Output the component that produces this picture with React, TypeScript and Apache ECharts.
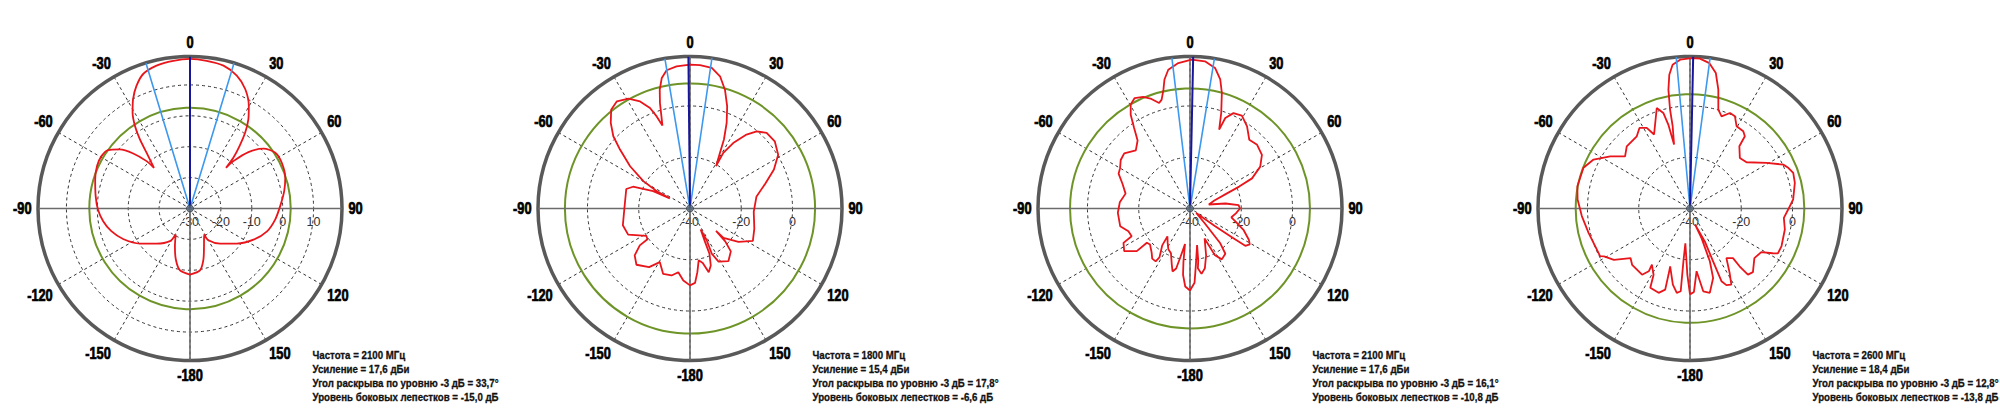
import React, { useEffect, useRef } from "react";
import * as echarts from "echarts";

// ---- data ----
const FREQUENCIES_MHZ = [2100, 1800, 2100, 2600];
const GAINS_DBI = [17.6, 15.4, 17.6, 18.4];
const BEAMWIDTHS_DEG = [33.7, 17.8, 16.1, 12.8];
const SIDELOBE_LEVELS_DB = [-15.0, -6.6, -10.8, -13.8];
const BEAM_DIRECTIONS_DEG = [0, -0.6, 1.2, 1.2];
const RADIUS_MIN = [-30, -40, -40, -40];
const RADIUS_MAX = [19.2, 19.3, 19.3, 19.3];
const RADIUS_STEP = [10, 20, 20, 20];
const ANGLE_LABELS = [0, 30, 60, 90, 120, 150, -180, -150, -120, -90, -60, -30];

// [angle in degrees, level in dB]
const PATTERN_2100_A: [number, number][] = [
  [-180, -8.6], [-170.8, -9.7], [-164.6, -12.8], [-158.3, -16.8], [-151.1, -20.4], [-148.5, -17.6],
  [-136.4, -14.3], [-125, -10.2], [-114.5, -6.2], [-106.1, -3.5], [-98.3, -1.6], [-90.6, -0.2],
  [-82.5, 0.8], [-73, 2.1], [-65.4, 3.1], [-59.4, 3.3], [-54.5, 2.6], [-49.9, -0.3], [-45.9, -4.4],
  [-42.5, -9.2], [-41.5, -12.4], [-37.9, -7.1], [-35.9, -2.3], [-33.7, 2.1], [-30.9, 6.2],
  [-27.5, 9.9], [-23.6, 13.3], [-19.2, 16.1], [-13.2, 17.5], [-6.45, 18.1], [0, 18.4], [6.45, 18.1],
  [13.2, 17.5], [19.4, 15.6], [24.8, 12.6], [29.8, 8.3], [33.2, 4.5], [36, 0.4], [38.4, -4.2],
  [40.5, -8.4], [41.5, -12.4], [42.5, -9.2], [46, -3.7], [50.9, 0.7], [56.8, 3.0], [63.5, 3.2],
  [72.1, 2.4], [79.6, 1.0], [88.5, -0.8], [97.4, -2.2], [106.5, -4], [116.1, -7.1], [126.9, -11.1],
  [139.4, -15], [150, -18.1], [151.7, -20.4], [159.6, -17], [165.3, -12.9], [170.8, -9.7], [180, -8.6],
];

const PATTERN_1800: [number, number][] = [
  [-180, -10], [-174.7, -11.8], [-169.6, -14.7], [-164.6, -12.9], [-157.7, -12.4], [-150.6, -16],
  [-145.1, -12.1], [-136.4, -9.7], [-130.3, -11.7], [-126.3, -15.7], [-125.9, -19.5], [-122.2, -19.9],
  [-112.9, -13.8], [-104, -13], [-90, -14.4], [-73, -14], [-69.1, -16.2], [-64.7, -24.1],
  [-63.4, -31.2], [-62.5, -25.4], [-59.6, -18.9], [-54.8, -11.4], [-49.9, -4.3], [-46.7, 1.1],
  [-42.8, 5.5], [-38.6, 9.3], [-34.3, 10.6], [-29.3, 9.1], [-25, 6.1], [-21.7, 2.2], [-19.9, -1.8],
  [-18.4, -5.9], [-17.2, -2.3], [-15.9, 2.8], [-14.3, 7.8], [-12.2, 12.1], [-9.6, 14.7], [-5.4, 15.7],
  [0, 16.1], [4, 16.1], [8.8, 15.5], [12.8, 12.9], [16.4, 8.3], [20, 2.4], [23.2, -3.7], [26.2, -10],
  [28.3, -15.4], [31.6, -20.6], [30.9, -14.7], [33.4, -9.4], [37.4, -3.7], [40.8, -0.2], [45.4, 2.0],
  [51.6, 2.2], [58.6, 0.3], [65.1, -3.9], [71.6, -9], [80, -13.7], [93, -15.1], [107.4, -13.7],
  [117.3, -12.4], [124.6, -17], [131.3, -22.6], [130.7, -26.6], [133, -21.2], [136.4, -16.9],
  [143.8, -14.6], [151.7, -16.5], [154.3, -20.4], [152.2, -26], [153.1, -30.8], [155.8, -25.7],
  [156.7, -20.8], [160, -16.3], [163.6, -14.1], [166.8, -18.2], [170.5, -19.5], [173.4, -15],
  [176.1, -10.9], [180, -10],
];

const PATTERN_2100_B: [number, number][] = [
  [-180, -8], [-176.5, -9.5], [-174, -14], [-173, -19], [-172, -26], [-169, -21], [-167, -16],
  [-164.5, -14.5], [-162, -17], [-157, -21], [-152, -22], [-147, -24], [-141, -26], [-143, -22],
  [-148, -17.5], [-147, -15.4], [-143, -15.5], [-139, -17.2], [-132, -19], [-128.5, -18.5],
  [-128.7, -13.4], [-123, -9.4], [-117.3, -10.8], [-115.4, -14.8], [-110.2, -14.4], [-104.2, -11.9],
  [-93.4, -11.8], [-85, -12.5], [-77, -14.2], [-70, -12], [-64, -9], [-60, -8.5], [-55, -7],
  [-50, -6.5], [-43, -9], [-37.6, -6.5], [-34.8, -1.8], [-32.3, 3.3], [-29.7, 6.7], [-26.6, 8.2],
  [-22.8, 7.2], [-19.4, 5.3], [-16.3, 2.9], [-14.6, 3.9], [-12.6, 7.5], [-11.2, 11.3], [-8.9, 14.8],
  [-4.6, 16.9], [0.6, 18.1], [5.8, 17.7], [10.1, 15.7], [13.2, 11.7], [15.4, 6.8], [18.1, -0.8],
  [20.3, -7.2], [21.3, -2.1], [24.5, 0.9], [29.2, 1.5], [34.8, -1], [40.8, -4.6], [46.5, -3.9],
  [53.3, -5], [59.2, -8.1], [64.1, -13.1], [66, -19], [68, -25], [72, -30], [78, -32.5], [82, -26],
  [86, -21], [90, -20.5], [96, -22], [102, -23.5], [107, -21], [112, -17.4], [118, -14], [121, -12.8],
  [124, -14], [124.5, -20], [125, -28], [126, -37], [135, -32], [139, -22], [142, -17.6], [148, -16.6],
  [152, -19.5], [153, -24], [154, -27], [161, -20.7], [166, -16], [170, -14.1], [172.5, -16.5],
  [171, -19.5], [169, -25.5], [174, -18], [176.5, -11], [180, -8],
];

const PATTERN_2600: [number, number][] = [
  [-180, -6.5], [-177.7, -14.2], [-172.4, -26.3], [-172.9, -19.2], [-173.6, -7.5], [-171.1, -6.7],
  [-167.3, -9.6], [-161.1, -16.1], [-162, -12.9], [-163, -6.9], [-159.6, -4.9], [-153.4, -5.4],
  [-151.2, -10.5], [-145.9, -13.5], [-146.7, -10.7], [-144.1, -8.1], [-134.2, -8.5], [-129.8, -9.8],
  [-124, -4.2], [-119.1, -1.6], [-117.9, -0.3], [-111.6, -0.2], [-103.5, 0.7], [-94, 2.3],
  [-85.4, 4], [-78.8, 4.8], [-69.1, 4.5], [-63.1, 2.2], [-56.8, -2.8], [-51.2, -7.5], [-45.5, -5.4],
  [-36.4, -5], [-32.1, -2.9], [-28.2, -4.3], [-25.9, -7.9], [-18.3, 1.3], [-15.6, -1.3], [-14.5, -6.2],
  [-14, -14.3], [-11.9, -7.2], [-11.4, -0.6], [-10.3, 7.1], [-8.8, 12.8], [-6.9, 16.5], [-3.8, 18.2],
  [0.6, 18.7], [3.8, 18.6], [7.6, 17.2], [10.8, 13.8], [13.4, 7.7], [16, 0.1], [18.9, -2], [22.7, 0.4],
  [26, 0], [29.5, -3.1], [34.6, -3.4], [37.2, -4.6], [38.4, -9], [44.6, -12.3], [50.7, -11.5],
  [59.2, -5.2], [64.8, 0.2], [67.5, 1.5], [71, 2.6], [76.3, 2.1], [85, 0.4], [90.6, -1.7], [95.7, -3.2],
  [102.5, -2.1], [112.3, -1.4], [117, -1.5], [118.4, -3.3], [121.5, -7.4], [127.6, -8.3], [135.3, -5.1],
  [138.8, -5.7], [139.4, -10.3], [139.1, -14.4], [143.7, -16], [148.4, -10.5], [151.5, -6.2],
  [154.6, -6.9], [156.6, -9.1], [156.4, -17.5], [155.8, -25.8], [162.6, -33.5], [158.7, -27.5],
  [159.4, -18], [161.6, -11.4], [166.8, -6.2], [170.9, -7.3], [174, -15.4], [177.3, -7.4], [180, -6.5],
];

const PATTERNS = [PATTERN_2100_A, PATTERN_1800, PATTERN_2100_B, PATTERN_2600];

// ---- layout / style ----
const BOLD_FONT = '"Liberation Sans", Arial, sans-serif';
const REGULAR = '"Liberation Sans", Arial, sans-serif';
const POLAR_RADIUS = 152;
const LABEL_GAP = 6.5;

const toAxisAngle = (a: number) => (a < 90 ? a + 360 : a);
const ru = (v: number) => v.toFixed(1).replace(".", ",");

function buildOption() {
  const polar: any[] = [];
  const angleAxis: any[] = [];
  const radiusAxis: any[] = [];
  const series: any[] = [];
  const graphic: any[] = [];

  for (let k = 0; k < 4; k++) {
    const cx = 190 + 500 * k;
    const cy = 208.5;
    const min = RADIUS_MIN[k];
    const max = RADIUS_MAX[k];
    const step = RADIUS_STEP[k];

    polar.push({ center: [cx, cy], radius: POLAR_RADIUS });

    angleAxis.push({
      polarIndex: k,
      type: "value",
      min: 90,
      max: 450,
      interval: 30,
      startAngle: 0,
      clockwise: true,
      axisLine: { show: true, lineStyle: { color: "#595959", width: 3.5 } },
      axisTick: { show: false },
      axisLabel: { show: false },
      splitLine: { show: true, lineStyle: { color: "#333", width: 1, type: [3, 3] } },
    });

    radiusAxis.push({
      polarIndex: k,
      type: "value",
      min,
      max,
      interval: step,
      axisLine: { show: false },
      axisTick: { show: false },
      axisLabel: {
        margin: -7,
        verticalAlign: "top",
        color: "#333",
        fontSize: 12.5,
        fontFamily: REGULAR,
        formatter: (v: number) =>
          Math.abs(v % step) < 1e-6 && v < max - 1 ? String(v) : "",
      },
      splitLine: { show: true, lineStyle: { color: "#333", width: 1, type: [3, 3] } },
    });

    const level = GAINS_DBI[k] + SIDELOBE_LEVELS_DB[k];
    series.push({
      type: "custom",
      coordinateSystem: "polar",
      polarIndex: k,
      silent: true,
      z: 3,
      data: [[level, 90]],
      renderItem: (params: any, api: any) => {
        const cs = params.coordSys;
        const p = api.coord([api.value(0), api.value(1)]);
        const r = Math.hypot(p[0] - cs.cx, p[1] - cs.cy);
        return {
          type: "circle",
          shape: { cx: cs.cx, cy: cs.cy, r },
          style: { fill: "none", stroke: "#6e9428", lineWidth: 2 },
        };
      },
    });

    // solid cross axes
    series.push({
      type: "line",
      coordinateSystem: "polar",
      polarIndex: k,
      silent: true,
      symbol: "none",
      z: 4,
      lineStyle: { color: "#6b6b6b", width: 1.6 },
      data: [[max, toAxisAngle(0)], [max, toAxisAngle(180)]],
    });
    series.push({
      type: "line",
      coordinateSystem: "polar",
      polarIndex: k,
      silent: true,
      symbol: "none",
      z: 4,
      lineStyle: { color: "#6b6b6b", width: 1.6 },
      data: [[max, toAxisAngle(-90)], [max, toAxisAngle(90)]],
    });

    // radiation pattern
    series.push({
      type: "line",
      coordinateSystem: "polar",
      polarIndex: k,
      silent: true,
      symbol: "none",
      smooth: k === 0 ? 0.25 : false,
      z: 5,
      lineStyle: { color: "#e8151b", width: 1.8 },
      data: PATTERNS[k].map(([a, v]) => [v, toAxisAngle(a)]),
    });

    // -3 dB beam edges and beam direction
    const c = BEAM_DIRECTIONS_DEG[k];
    const hw = BEAMWIDTHS_DEG[k] / 2;
    series.push({
      type: "line",
      coordinateSystem: "polar",
      polarIndex: k,
      silent: true,
      symbol: "none",
      z: 6,
      lineStyle: { color: "#3d98ee", width: 1.6 },
      data: [[max, toAxisAngle(c - hw)], [min, toAxisAngle(c)], [max, toAxisAngle(c + hw)]],
    });
    series.push({
      type: "line",
      coordinateSystem: "polar",
      polarIndex: k,
      silent: true,
      symbol: "none",
      z: 7,
      lineStyle: { color: "#17169a", width: 2 },
      data: [[min, toAxisAngle(c)], [max, toAxisAngle(c)]],
    });
    series.push({
      type: "scatter",
      coordinateSystem: "polar",
      polarIndex: k,
      silent: true,
      z: 8,
      symbol: "circle",
      symbolSize: 7,
      itemStyle: { color: "#5a6b7a", borderColor: "#2f3b48", borderWidth: 1 },
      data: [[min, 360]],
    });

    // angle labels (narrow heavy bold), placed around the polar frame
    ANGLE_LABELS.forEach((a) => {
      const rad = (a * Math.PI) / 180;
      const R = POLAR_RADIUS + LABEL_GAP;
      const dx = Math.sin(rad);
      const dy = -Math.cos(rad);
      const align = Math.abs(dx) < 0.3 ? "center" : dx > 0 ? "left" : "right";
      const vAlign = Math.abs(dy) < 0.3 ? "middle" : dy > 0 ? "top" : "bottom";
      graphic.push({
        type: "text",
        x: cx + R * dx,
        y: cy + R * dy,
        scaleX: 0.8,
        silent: true,
        style: {
          text: String(a),
          fill: "#000",
          stroke: "#000",
          lineWidth: 0.7,
          fontSize: 16,
          fontWeight: "bold",
          fontFamily: BOLD_FONT,
          align,
          verticalAlign: vAlign,
        },
      });
    });

    const lines = [
      `Частота = ${FREQUENCIES_MHZ[k]} МГц`,
      `Усиление = ${ru(GAINS_DBI[k])} дБи`,
      `Угол раскрыва по уровню -3 дБ = ${ru(BEAMWIDTHS_DEG[k])}°`,
      `Уровень боковых лепестков = ${ru(SIDELOBE_LEVELS_DB[k])} дБ`,
    ];
    lines.forEach((t, i) => {
      graphic.push({
        type: "text",
        x: 312.5 + 500 * k,
        y: 355 + 14.2 * i,
        scaleX: 0.88,
        silent: true,
        style: {
          text: t,
          fill: "#111",
          stroke: "#111",
          lineWidth: 0.3,
          fontSize: 11,
          fontWeight: "bold",
          fontFamily: BOLD_FONT,
          verticalAlign: "middle",
          align: "left",
        },
      });
    });
  }

  return {
    animation: false,
    backgroundColor: "#ffffff",
    polar,
    angleAxis,
    radiusAxis,
    series,
    graphic,
  };
}

export default function App() {
  const ref = useRef<HTMLDivElement | null>(null);
  useEffect(() => {
    if (!ref.current) return;
    const chart = echarts.init(ref.current, null, { renderer: "svg" });
    chart.setOption(buildOption() as any);
    return () => chart.dispose();
  }, []);
  return (
    <div
      ref={ref}
      style={{ position: "absolute", left: 0, top: 0, width: 2000, height: 417 }}
    />
  );
}
